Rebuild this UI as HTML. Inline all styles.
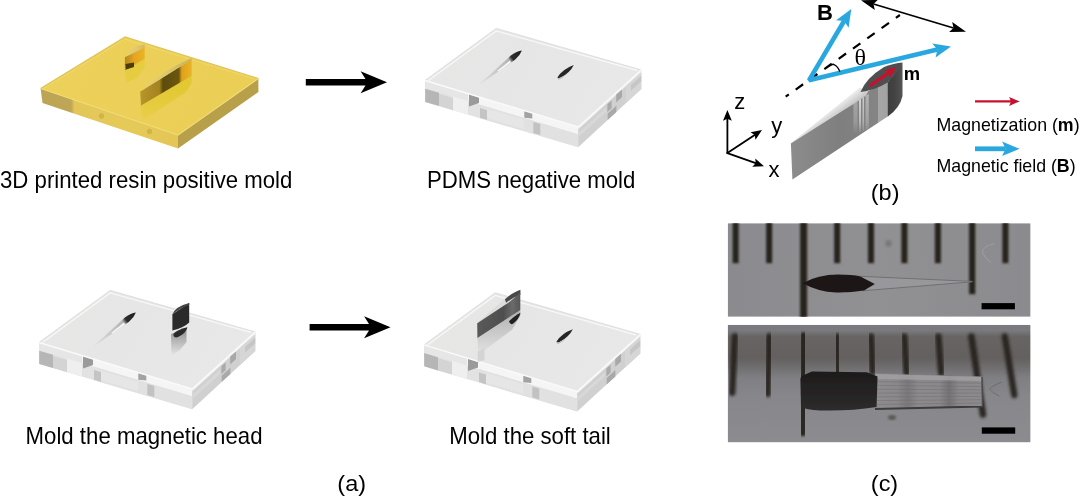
<!DOCTYPE html>
<html><head><meta charset="utf-8"><title>figure</title>
<style>html,body{margin:0;padding:0;background:#fff;}body{width:1080px;height:499px;position:relative;overflow:hidden;font-family:"Liberation Sans",sans-serif;}</style>
</head><body>
<svg width="1080" height="499" viewBox="0 0 1080 499" style="position:absolute;left:0;top:0">
<defs>
<linearGradient id="yfl" x1="40" y1="0" x2="178" y2="0" gradientUnits="userSpaceOnUse">
<stop offset="0" stop-color="#bca455"/><stop offset="0.225" stop-color="#bea656"/><stop offset="0.25" stop-color="#e2c658"/><stop offset="0.6" stop-color="#e6ca58"/><stop offset="1" stop-color="#e3c656"/>
</linearGradient>
<linearGradient id="yfr" x1="200" y1="90" x2="212" y2="107" gradientUnits="userSpaceOnUse">
<stop offset="0" stop-color="#d2b860"/><stop offset="0.6" stop-color="#c8b05a"/><stop offset="1" stop-color="#b89f48"/>
</linearGradient>
<linearGradient id="ytop" x1="40" y1="37" x2="200" y2="135" gradientUnits="userSpaceOnUse">
<stop offset="0" stop-color="#ecd15c"/><stop offset="1" stop-color="#ebce55"/>
</linearGradient>
<linearGradient id="yblade" x1="140" y1="0" x2="191" y2="0" gradientUnits="userSpaceOnUse">
<stop offset="0" stop-color="#b8962a"/><stop offset="0.38" stop-color="#a48320"/><stop offset="0.45" stop-color="#5e4d0c"/><stop offset="0.76" stop-color="#6b560c"/><stop offset="0.82" stop-color="#e0a01c"/><stop offset="1" stop-color="#e9b226"/>
</linearGradient>
<linearGradient id="ybladeR" x1="0" y1="89" x2="0" y2="121" gradientUnits="userSpaceOnUse">
<stop offset="0" stop-color="#e2c832"/><stop offset="0.5" stop-color="#e6cc3e"/><stop offset="1" stop-color="#e9ce50"/>
</linearGradient>
<linearGradient id="ypost" x1="125" y1="0" x2="145" y2="0" gradientUnits="userSpaceOnUse">
<stop offset="0" stop-color="#b48a1c"/><stop offset="0.3" stop-color="#d09a20"/><stop offset="0.45" stop-color="#e4a620"/><stop offset="1" stop-color="#e9b428"/>
</linearGradient>
<linearGradient id="ylens" x1="140" y1="0" x2="192" y2="0" gradientUnits="userSpaceOnUse">
<stop offset="0" stop-color="#e6d07c"/><stop offset="0.5" stop-color="#dcc770"/><stop offset="1" stop-color="#c4b25c"/>
</linearGradient>
<linearGradient id="ylens2" x1="125" y1="0" x2="145" y2="0" gradientUnits="userSpaceOnUse">
<stop offset="0" stop-color="#e4cf7a"/><stop offset="0.6" stop-color="#e0c86c"/><stop offset="1" stop-color="#d4b85a"/>
</linearGradient>
<filter id="b1" x="-10%" y="-10%" width="120%" height="120%"><feGaussianBlur stdDeviation="0.75"/></filter>
<filter id="b2" x="-20%" y="-20%" width="140%" height="140%"><feGaussianBlur stdDeviation="1.2"/></filter>
<filter id="b3" x="-20%" y="-20%" width="140%" height="140%"><feGaussianBlur stdDeviation="2"/></filter>

<linearGradient id="ptop" x1="425" y1="28" x2="600" y2="130" gradientUnits="userSpaceOnUse">
<stop offset="0" stop-color="#e7e7e6"/><stop offset="0.5" stop-color="#e6e6e6"/><stop offset="1" stop-color="#e8e8e8"/>
</linearGradient>
<linearGradient id="pfl" x1="0" y1="0" x2="0" y2="1">
<stop offset="0" stop-color="#e9e9e9"/><stop offset="1" stop-color="#dedede"/>
</linearGradient>
<linearGradient id="pgroove" x1="479" y1="84" x2="522" y2="50" gradientUnits="userSpaceOnUse">
<stop offset="0" stop-color="#dedede"/><stop offset="0.35" stop-color="#cccccc"/><stop offset="0.7" stop-color="#b4b4b4"/><stop offset="0.77" stop-color="#2c2c2c"/><stop offset="1" stop-color="#1e1e1e"/>
</linearGradient>
<linearGradient id="prefl" x1="0" y1="0" x2="0" y2="1">
<stop offset="0" stop-color="#8a8a8a"/><stop offset="1" stop-color="#e6e6e6"/>
</linearGradient>
<linearGradient id="trefl" x1="0" y1="0" x2="0" y2="1">
<stop offset="0" stop-color="#b0b0b0"/><stop offset="1" stop-color="#e2e2e2"/>
</linearGradient>
<linearGradient id="tface" x1="477" y1="0" x2="521" y2="0" gradientUnits="userSpaceOnUse">
<stop offset="0" stop-color="#5a5a5a"/><stop offset="0.6" stop-color="#4e4e4e"/><stop offset="0.8" stop-color="#6a6a6a"/><stop offset="1" stop-color="#555"/>
</linearGradient>

<linearGradient id="bside" x1="791" y1="0" x2="888" y2="0" gradientUnits="userSpaceOnUse">
<stop offset="0" stop-color="#8c8c8c"/><stop offset="0.5" stop-color="#7f7f7f"/><stop offset="0.8" stop-color="#838383"/><stop offset="0.895" stop-color="#858585"/><stop offset="0.9" stop-color="#a6a6a6"/><stop offset="1" stop-color="#a2a2a2"/>
</linearGradient>
<linearGradient id="bwedge" x1="820" y1="105" x2="832" y2="121" gradientUnits="userSpaceOnUse">
<stop offset="0" stop-color="#ffffff"/><stop offset="0.5" stop-color="#eeeeee"/><stop offset="1" stop-color="#c2c2c2"/>
</linearGradient>
<linearGradient id="bhead" x1="887" y1="0" x2="903" y2="0" gradientUnits="userSpaceOnUse">
<stop offset="0" stop-color="#3c3c3c"/><stop offset="0.5" stop-color="#444"/><stop offset="1" stop-color="#555"/>
</linearGradient>
<linearGradient id="bfade" x1="0" y1="92" x2="0" y2="134" gradientUnits="userSpaceOnUse">
<stop offset="0" stop-color="#fff" stop-opacity="0.9"/><stop offset="0.7" stop-color="#fff" stop-opacity="0.55"/><stop offset="1" stop-color="#fff" stop-opacity="0"/>
</linearGradient>

<linearGradient id="c1bg" x1="0" y1="0" x2="1" y2="0">
<stop offset="0" stop-color="#8b8b8f"/><stop offset="0.5" stop-color="#919194"/><stop offset="1" stop-color="#8b8b8f"/>
</linearGradient>
<linearGradient id="c2bg" x1="0" y1="324.8" x2="0" y2="442.4" gradientUnits="userSpaceOnUse">
<stop offset="0" stop-color="#7b7b80"/><stop offset="0.05" stop-color="#79797e"/><stop offset="0.10" stop-color="#676463"/><stop offset="0.28" stop-color="#63605f"/><stop offset="0.36" stop-color="#6f6d6e"/><stop offset="0.45" stop-color="#7f7f83"/><stop offset="0.6" stop-color="#87878b"/><stop offset="1" stop-color="#8b8b90"/>
</linearGradient>
<clipPath id="cp1"><rect x="727.7" y="223.2" width="302.9" height="93.6"/></clipPath>
<clipPath id="cp2"><rect x="727.7" y="324.8" width="302.9" height="117.6"/></clipPath>
<filter id="bt" x="-100%" y="-10%" width="300%" height="120%"><feGaussianBlur stdDeviation="1.1"/></filter>
<filter id="bt2" x="-100%" y="-10%" width="300%" height="120%"><feGaussianBlur stdDeviation="1.8"/></filter><filter id="bt3" x="-100%" y="-10%" width="300%" height="120%"><feGaussianBlur stdDeviation="1.5"/></filter>
<linearGradient id="tailg" x1="876" y1="0" x2="982" y2="0" gradientUnits="userSpaceOnUse">
<stop offset="0" stop-color="#8e8c8f"/><stop offset="0.2" stop-color="#8a888b"/><stop offset="0.3" stop-color="#7a787a"/><stop offset="0.4" stop-color="#8c8a8d"/><stop offset="0.6" stop-color="#8a888b"/><stop offset="0.69" stop-color="#747274"/><stop offset="0.78" stop-color="#8a888b"/><stop offset="1" stop-color="#8c8a8e"/>
</linearGradient>
<linearGradient id="headg" x1="0" y1="371" x2="0" y2="411" gradientUnits="userSpaceOnUse">
<stop offset="0" stop-color="#1d1b1b"/><stop offset="0.45" stop-color="#242222"/><stop offset="1" stop-color="#2e2c2c"/>
</linearGradient>
</defs>
<g filter="url(#b1)">
<polygon points="40.6,88.5 178.0,135.0 178.0,148.5 42.5,103.0" fill="url(#yfl)"/>
<polygon points="178.0,135.0 258.4,78.5 258.4,92.0 178.0,148.5" fill="url(#yfr)"/>
<polygon points="40.6,88.5 125.0,37.0 258.4,78.5 178.0,135.0" fill="url(#ytop)"/>
<polyline points="40.6,88.5 125.0,37.0 258.4,78.5" fill="none" stroke="#e0c458" stroke-width="1.2"/>
<polyline points="43.5,88.6 125.0,39.2 255.0,79.0" fill="none" stroke="#f0d970" stroke-width="1" opacity="0.8"/>
<polyline points="40.6,88.5 178.0,135.0 258.4,78.5" fill="none" stroke="#f1da78" stroke-width="1.3" opacity="0.9"/>
<ellipse cx="101.5" cy="116" rx="2.6" ry="2.8" fill="#b89c3c" opacity="0.45" filter="url(#b1)"/>
<ellipse cx="149.5" cy="131.5" rx="2.6" ry="2.8" fill="#b89c3c" opacity="0.45" filter="url(#b1)"/>
<polygon points="124.8,70.0 144.7,58.0 144.7,67.0 138.0,77.0 126.5,83.0" fill="#e6cc40" filter="url(#b1)"/>
<path d="M124.9,56.9 L144.7,47.3 L144.7,58.7 L124.9,70.6Z" fill="url(#ypost)"/>
<polygon points="125.5,64.0 134.0,62.5 134.0,67.0 126.0,69.5" fill="#4a3c08" filter="url(#b1)"/>
<path d="M124.9,57 Q131.4,45.9 144.7,44.3 L144.7,47.4 L124.9,57Z" fill="url(#ylens2)"/>
<polygon points="140.6,104.0 191.6,74.5 191.6,83.0 186.0,92.0 142.0,121.0" fill="url(#ybladeR)" filter="url(#b1)"/>
<path d="M140.2,91.5 L191.6,59.6 L191.6,75.7 L141,105.5Z" fill="url(#yblade)"/>
<path d="M140.2,91.6 Q164,69.7 191.4,58.3 L191.6,59.8 L140.2,91.6Z" fill="url(#ylens)"/>
</g><g transform="translate(0,0)">
<g filter="url(#b1)">
<polygon points="425.0,80.5 578.2,127.0 578.2,147.2 425.4,102.0" fill="#e2e2e2"/>
<polygon points="578.2,127.0 641.3,70.0 641.3,89.0 578.2,147.2" fill="#d0d0d0"/>
<polygon points="425.2,88.7 439.0,92.8 439.0,106.0 425.2,101.9" fill="#b6b6b6" opacity="1"/>
<polygon points="439.0,93.7 453.0,97.9 453.0,110.2 439.0,106.0" fill="#d4d4d4" opacity="1"/>
<polygon points="453.0,95.3 468.0,99.9 468.0,114.6 453.0,110.2" fill="#efefef" opacity="1"/>
<polygon points="425.2,80.6 468.0,93.6 468.0,101.1 425.2,88.3" fill="#e6e6e6" opacity="1"/>
<polygon points="468.0,93.6 578.0,126.9 578.0,134.2 468.0,101.1" fill="#f5f5f5" opacity="1"/>
<polygon points="480.0,104.7 578.0,134.2 578.0,147.1 480.0,118.2" fill="#e1e1e1" opacity="1"/>
<polygon points="469.0,94.0 479.0,97.5 479.0,103.0 469.0,106.5" fill="#9a9a9a"/>
<polygon points="480.0,108.1 487.0,110.2 487.0,119.8 480.0,117.7" fill="#c4c4c4" opacity="1"/>
<polygon points="487.0,108.7 524.0,119.8 524.0,129.1 487.0,118.1" fill="#e6e6e6" opacity="1"/>
<polygon points="524.3,110.6 532.3,112.0 532.3,118.6 524.3,117.8" fill="#a2a2a2"/>
<polygon points="533.3,122.0 540.3,124.1 540.3,135.0 533.3,132.9" fill="#c2c2c2" opacity="1"/>
<polygon points="578.4,126.8 641.0,70.3 641.0,72.6 578.4,129.2" fill="#f0f0f0" opacity="1"/>
<polygon points="578.4,132.9 606.0,107.8 606.0,111.7 578.4,136.9" fill="#d8d8d8" opacity="1"/>
<polygon points="607.4,104.2 611.6,100.4 611.6,108.2 607.4,112.0" fill="#aaaaaa" opacity="1"/>
<polygon points="616.2,94.6 622.0,89.4 622.0,97.1 616.2,102.4" fill="#a8a8a8" opacity="1"/>
<polygon points="607.6,113.8 616.4,105.7 616.4,112.0 607.6,120.1" fill="#a9a9a9" opacity="1"/>
<polygon points="626.0,86.1 641.2,72.4 641.2,89.1 626.0,103.1" fill="#d6d6d6" opacity="1"/>
<polygon points="631.0,85.1 641.2,75.8 641.2,81.5 631.0,90.8" fill="#c6c6c6" opacity="1"/>
<polygon points="425.0,80.5 496.2,28.4 641.3,70.0 578.2,127.0" fill="url(#ptop)"/>
<polyline points="425.0,80.5 496.2,28.4 641.3,70.0" fill="none" stroke="#dedede" stroke-width="1"/>
<polyline points="428.5,80.6 496.2,31.0 637.0,70.4" fill="none" stroke="#f8f8f8" stroke-width="1.2"/>
<polyline points="425.0,80.5 578.2,127.0 641.3,70.0" fill="none" stroke="#fafafa" stroke-width="1.4"/>
</g>
<path d="M479.4,84.3 L510.9,55.4 Q517,51 521.9,50.4 Q520,55.5 515,59.8 Q506,66.5 479.4,84.6Z" fill="url(#pgroove)" filter="url(#b1)"/>
<path d="M497,71 L510,60.5 L511,62.5 L499,71.2Z" fill="#f6f6f6" filter="url(#b1)"/>
<g filter="url(#b1)">
<path d="M557.4,77.4 Q562.5,69 573.8,64.9 Q570,72.8 560.5,77.6 Q558.5,78.6 557.4,77.4Z" fill="#262626"/>
<path d="M557.4,77.4 Q558.5,78.8 560.5,77.8 Q565,76 568,73 Q563,78 559,79.6 Q557.6,79.6 557.4,77.4Z" fill="#b8b8b8"/>
</g>
</g><g transform="translate(-386,262)">
<g filter="url(#b1)">
<polygon points="425.0,80.5 578.2,127.0 578.2,147.2 425.4,102.0" fill="#e2e2e2"/>
<polygon points="578.2,127.0 641.3,70.0 641.3,89.0 578.2,147.2" fill="#d0d0d0"/>
<polygon points="425.2,88.7 439.0,92.8 439.0,106.0 425.2,101.9" fill="#b6b6b6" opacity="1"/>
<polygon points="439.0,93.7 453.0,97.9 453.0,110.2 439.0,106.0" fill="#d4d4d4" opacity="1"/>
<polygon points="453.0,95.3 468.0,99.9 468.0,114.6 453.0,110.2" fill="#efefef" opacity="1"/>
<polygon points="425.2,80.6 468.0,93.6 468.0,101.1 425.2,88.3" fill="#e6e6e6" opacity="1"/>
<polygon points="468.0,93.6 578.0,126.9 578.0,134.2 468.0,101.1" fill="#f5f5f5" opacity="1"/>
<polygon points="480.0,104.7 578.0,134.2 578.0,147.1 480.0,118.2" fill="#e1e1e1" opacity="1"/>
<polygon points="469.0,94.0 479.0,97.5 479.0,103.0 469.0,106.5" fill="#9a9a9a"/>
<polygon points="480.0,108.1 487.0,110.2 487.0,119.8 480.0,117.7" fill="#c4c4c4" opacity="1"/>
<polygon points="487.0,108.7 524.0,119.8 524.0,129.1 487.0,118.1" fill="#e6e6e6" opacity="1"/>
<polygon points="524.3,110.6 532.3,112.0 532.3,118.6 524.3,117.8" fill="#a2a2a2"/>
<polygon points="533.3,122.0 540.3,124.1 540.3,135.0 533.3,132.9" fill="#c2c2c2" opacity="1"/>
<polygon points="578.4,126.8 641.0,70.3 641.0,72.6 578.4,129.2" fill="#f0f0f0" opacity="1"/>
<polygon points="578.4,132.9 606.0,107.8 606.0,111.7 578.4,136.9" fill="#d8d8d8" opacity="1"/>
<polygon points="607.4,104.2 611.6,100.4 611.6,108.2 607.4,112.0" fill="#aaaaaa" opacity="1"/>
<polygon points="616.2,94.6 622.0,89.4 622.0,97.1 616.2,102.4" fill="#a8a8a8" opacity="1"/>
<polygon points="607.6,113.8 616.4,105.7 616.4,112.0 607.6,120.1" fill="#a9a9a9" opacity="1"/>
<polygon points="626.0,86.1 641.2,72.4 641.2,89.1 626.0,103.1" fill="#d6d6d6" opacity="1"/>
<polygon points="631.0,85.1 641.2,75.8 641.2,81.5 631.0,90.8" fill="#c6c6c6" opacity="1"/>
<polygon points="425.0,80.5 496.2,28.4 641.3,70.0 578.2,127.0" fill="url(#ptop)"/>
<polyline points="425.0,80.5 496.2,28.4 641.3,70.0" fill="none" stroke="#dedede" stroke-width="1"/>
<polyline points="428.5,80.6 496.2,31.0 637.0,70.4" fill="none" stroke="#f8f8f8" stroke-width="1.2"/>
<polyline points="425.0,80.5 578.2,127.0 641.3,70.0" fill="none" stroke="#fafafa" stroke-width="1.4"/>
</g>
<path d="M479.4,84.3 L510.9,55.4 Q517,51 521.9,50.4 Q520,55.5 515,59.8 Q506,66.5 479.4,84.6Z" fill="url(#pgroove)" filter="url(#b1)"/>
<path d="M497,71 L510,60.5 L511,62.5 L499,71.2Z" fill="#f6f6f6" filter="url(#b1)"/>
<g filter="url(#b1)">
<polygon points="557.0,72.0 572.5,65.5 572.5,80.0 566.0,88.0 557.5,93.5" fill="url(#prefl)"/>
<path d="M559.3,72.2 Q563,67.8 573.4,65.3 Q572,71.5 564,75 Q560,76.5 559.3,72.2Z" fill="#2a2a2a"/>
<path d="M558.4,52.3 L575.2,41.1 L575.2,60.4 Q570,65.5 558.4,68.5Z" fill="#2b2b2b"/>
<path d="M558.4,52.6 Q561,44.5 575.2,41 L575.2,43 Q566,46 558.4,52.6Z" fill="#454545"/>
</g>
</g><g transform="translate(-1,264.4)">
<g filter="url(#b1)">
<polygon points="425.0,80.5 578.2,127.0 578.2,147.2 425.4,102.0" fill="#e2e2e2"/>
<polygon points="578.2,127.0 641.3,70.0 641.3,89.0 578.2,147.2" fill="#d0d0d0"/>
<polygon points="425.2,88.7 439.0,92.8 439.0,106.0 425.2,101.9" fill="#b6b6b6" opacity="1"/>
<polygon points="439.0,93.7 453.0,97.9 453.0,110.2 439.0,106.0" fill="#d4d4d4" opacity="1"/>
<polygon points="453.0,95.3 468.0,99.9 468.0,114.6 453.0,110.2" fill="#efefef" opacity="1"/>
<polygon points="425.2,80.6 468.0,93.6 468.0,101.1 425.2,88.3" fill="#e6e6e6" opacity="1"/>
<polygon points="468.0,93.6 578.0,126.9 578.0,134.2 468.0,101.1" fill="#f5f5f5" opacity="1"/>
<polygon points="480.0,104.7 578.0,134.2 578.0,147.1 480.0,118.2" fill="#e1e1e1" opacity="1"/>
<polygon points="469.0,94.0 479.0,97.5 479.0,103.0 469.0,106.5" fill="#9a9a9a"/>
<polygon points="480.0,108.1 487.0,110.2 487.0,119.8 480.0,117.7" fill="#c4c4c4" opacity="1"/>
<polygon points="487.0,108.7 524.0,119.8 524.0,129.1 487.0,118.1" fill="#e6e6e6" opacity="1"/>
<polygon points="524.3,110.6 532.3,112.0 532.3,118.6 524.3,117.8" fill="#a2a2a2"/>
<polygon points="533.3,122.0 540.3,124.1 540.3,135.0 533.3,132.9" fill="#c2c2c2" opacity="1"/>
<polygon points="578.4,126.8 641.0,70.3 641.0,72.6 578.4,129.2" fill="#f0f0f0" opacity="1"/>
<polygon points="578.4,132.9 606.0,107.8 606.0,111.7 578.4,136.9" fill="#d8d8d8" opacity="1"/>
<polygon points="607.4,104.2 611.6,100.4 611.6,108.2 607.4,112.0" fill="#aaaaaa" opacity="1"/>
<polygon points="616.2,94.6 622.0,89.4 622.0,97.1 616.2,102.4" fill="#a8a8a8" opacity="1"/>
<polygon points="607.6,113.8 616.4,105.7 616.4,112.0 607.6,120.1" fill="#a9a9a9" opacity="1"/>
<polygon points="626.0,86.1 641.2,72.4 641.2,89.1 626.0,103.1" fill="#d6d6d6" opacity="1"/>
<polygon points="631.0,85.1 641.2,75.8 641.2,81.5 631.0,90.8" fill="#c6c6c6" opacity="1"/>
<polygon points="425.0,80.5 496.2,28.4 641.3,70.0 578.2,127.0" fill="url(#ptop)"/>
<polyline points="425.0,80.5 496.2,28.4 641.3,70.0" fill="none" stroke="#dedede" stroke-width="1"/>
<polyline points="428.5,80.6 496.2,31.0 637.0,70.4" fill="none" stroke="#f8f8f8" stroke-width="1.2"/>
<polyline points="425.0,80.5 578.2,127.0 641.3,70.0" fill="none" stroke="#fafafa" stroke-width="1.4"/>
</g>
<g filter="url(#b1)" transform="translate(1,-2.6)">
<polygon points="477.4,76.3 520.3,48.0 520.3,54.0 512.0,68.0 484.0,89.0 478.5,92.0" fill="url(#trefl)"/>
<polygon points="477.6,90.0 484.5,86.0 484.5,98.5 477.8,100.0" fill="#d4d4d4"/>
<path d="M509,59.5 Q515,53.5 520.5,51 Q519,57.5 513,62 Q510,63.5 509,59.5Z" fill="#222"/>
<polygon points="477.2,61.2 507.0,35.0 520.3,28.2 520.3,30.0 509.0,40.0" fill="#dcdcdc"/>
<path d="M505,37.5 Q512,31 520.4,28 L520.4,33 Q512,36 506,41Z" fill="#4a4a4a"/>
<polygon points="477.2,61.4 509.0,40.4 520.3,31.0 520.3,48.2 477.4,76.2" fill="url(#tface)"/>
</g>
<g filter="url(#b1)">
<path d="M557.4,77.4 Q562.5,69 573.8,64.9 Q570,72.8 560.5,77.6 Q558.5,78.6 557.4,77.4Z" fill="#262626"/>
<path d="M557.4,77.4 Q558.5,78.8 560.5,77.8 Q565,76 568,73 Q563,78 559,79.6 Q557.6,79.6 557.4,77.4Z" fill="#b8b8b8"/>
</g>
</g><polygon points="305.8,79.0 365.5,79.0 360.6,71.3 387.0,82.3 360.6,93.3 365.5,85.6 305.8,85.6" fill="#000"/><polygon points="309.6,324.0 369.0,324.0 364.1,316.3 390.5,327.3 364.1,338.3 369.0,330.6 309.6,330.6" fill="#000"/><g filter="url(#b1)">
<polygon points="790.9,143.2 859.7,87.6 868.0,90.0 869.5,93.5 790.9,144.8" fill="url(#bwedge)"/>
<path d="M790.9,143.4 L854.5,103.2 L866,95.6 L868.5,91 L887.7,80 L887.7,116.6 L792.4,179.4 Z" fill="url(#bside)"/>
<polygon points="853.4,104.0 857.6,101.2 857.6,133.0 853.4,134.5" fill="url(#bfade)" opacity="0.35"/>
<polygon points="859.0,100.3 861.0,99.0 861.0,131.5 859.0,132.5" fill="url(#bfade)" opacity="0.8"/>
<polygon points="862.5,98.0 864.0,97.0 864.0,130.5 862.5,131.5" fill="url(#bfade)" opacity="0.7"/>
<polygon points="865.5,96.0 868.8,93.8 868.8,129.0 865.5,130.0" fill="url(#bfade)" opacity="0.45"/>
<path d="M887.6,82.4 L902.5,62.8 L902.5,96 Q900,108 887.6,116.7Z" fill="url(#bhead)"/>
<path d="M860.5,92.1 Q866,78 884,67 Q894,63 902.5,62.5 Q899,72 887.5,82.5 Q876,89.8 860.5,92.1Z" fill="#4f4f4f"/>
</g>
<line x1="899.9" y1="15" x2="785.7" y2="96.7" stroke="#000" stroke-width="2.2" stroke-dasharray="9.1 8.5" stroke-dashoffset="4.2"/>
<polyline points="844.1,21.0 809.0,80.3 937.4,49.6" fill="none" stroke="#29a8e0" stroke-width="4.6" stroke-linejoin="miter" stroke-miterlimit="2.2"/>
<polygon points="851.3,9.0 848.6,27.7 844.1,21.0 836.1,20.3" fill="#29a8e0"/>
<polygon points="951.0,46.4 935.6,57.5 937.4,49.6 932.3,43.4" fill="#29a8e0"/>
<line x1="873.5" y1="4.0" x2="953.5" y2="28.0" stroke="#000" stroke-width="1.8"/>
<polygon points="861.0,0.3 877.8,-0.1 873.5,4.0 874.8,9.9" fill="#000"/>
<polygon points="966.0,31.7 949.2,32.1 953.5,28.0 952.2,22.1" fill="#000"/>
<path d="M826.5,67.6 Q831,64.5 833.5,64.3 Q838,66 839.8,71.8" fill="none" stroke="#000" stroke-width="1.4"/>
<line x1="869.6" y1="86" x2="888.8" y2="72.7" stroke="#c8102e" stroke-width="3.2"/>
<polygon points="896.6,67.3 889.9,77.8 888.8,72.7 884.4,69.9" fill="#c8102e"/>
<line x1="727.4" y1="153.1" x2="727.4" y2="118.8" stroke="#000" stroke-width="1.8" stroke-linecap="round"/>
<polygon points="727.4,110.0 731.8,120.8 727.4,118.8 723.0,120.8" fill="#000"/>
<line x1="727.4" y1="153.1" x2="754.7" y2="134.9" stroke="#000" stroke-width="1.8" stroke-linecap="round"/>
<polygon points="762.0,130.0 755.5,139.7 754.7,134.9 750.6,132.3" fill="#000"/>
<line x1="727.4" y1="153.1" x2="755.7" y2="163.2" stroke="#000" stroke-width="1.8" stroke-linecap="round"/>
<polygon points="764.0,166.2 752.3,166.7 755.7,163.2 755.3,158.4" fill="#000"/>
<line x1="975" y1="101.4" x2="1011.1" y2="101.4" stroke="#c8102e" stroke-width="2.2"/>
<polygon points="1019.6,101.4 1009.1,105.9 1011.1,101.4 1009.1,96.9" fill="#c8102e"/>
<line x1="975" y1="148.8" x2="1005.6" y2="148.8" stroke="#29a8e0" stroke-width="4.8"/>
<polygon points="1019.6,148.8 1002.1,156.1 1005.6,148.8 1002.1,141.6" fill="#29a8e0"/><g style="opacity:0.999"><text x="817.0" y="20.3" font-size="22" font-family="Liberation Sans, sans-serif" font-weight="bold" text-anchor="start" fill="#000" >B</text><text x="903.8" y="79.7" font-size="18.4" font-family="Liberation Sans, sans-serif" font-weight="bold" text-anchor="start" fill="#000" >m</text><text x="860.3" y="65.2" font-size="24" font-family="Liberation Serif, serif" font-weight="normal" text-anchor="middle" fill="#000" >θ</text><text x="734.3" y="109" font-size="22" font-family="Liberation Sans, sans-serif" font-weight="normal" text-anchor="start" fill="#000" >z</text><text x="771.3" y="132.9" font-size="22" font-family="Liberation Sans, sans-serif" font-weight="normal" text-anchor="start" fill="#000" >y</text><text x="768.6" y="176.7" font-size="22" font-family="Liberation Sans, sans-serif" font-weight="normal" text-anchor="start" fill="#000" >x</text><text x="936.5" y="131" font-size="17.75" font-family="Liberation Sans, sans-serif" font-weight="normal" text-anchor="start" fill="#000" >Magnetization (<tspan font-weight="bold">m</tspan>)</text><text x="936.5" y="171.8" font-size="17.75" font-family="Liberation Sans, sans-serif" font-weight="normal" text-anchor="start" fill="#000" >Magnetic field (<tspan font-weight="bold">B</tspan>)</text></g><g clip-path="url(#cp1)">
<rect x="727.7" y="223.2" width="302.9" height="93.6" fill="url(#c1bg)"/>
<rect x="732.6" y="215" width="6.0" height="48.19999999999999" fill="#26221f" filter="url(#bt)"/>
<rect x="766.2" y="215" width="6.0" height="48.19999999999999" fill="#26221f" filter="url(#bt)"/>
<rect x="800.1" y="215" width="7.0" height="110" fill="#26221f" filter="url(#bt)"/>
<rect x="834.2" y="215" width="6.0" height="48.19999999999999" fill="#26221f" filter="url(#bt)"/>
<rect x="868.0" y="215" width="6.0" height="48.19999999999999" fill="#26221f" filter="url(#bt)"/>
<rect x="901.4" y="215" width="6.0" height="48.19999999999999" fill="#26221f" filter="url(#bt)"/>
<rect x="934.9" y="215" width="6.0" height="48.19999999999999" fill="#26221f" filter="url(#bt)"/>
<rect x="969.1" y="215" width="6.2" height="79.19999999999999" fill="#26221f" filter="url(#bt)"/>
<rect x="1002.4" y="215" width="6.0" height="48.19999999999999" fill="#26221f" filter="url(#bt)"/>
<ellipse cx="888.5" cy="243.5" rx="3.4" ry="3.4" fill="#6a6662" opacity="0.55" filter="url(#b2)"/>
<path d="M994,243.5 Q982,247 982.5,252 Q984,258 991,262.5" fill="none" stroke="#a6a6a9" stroke-width="0.9" opacity="0.8" filter="url(#b1)"/>
<path d="M858,276.2 L972.4,281.2 L972.4,282 L862,290.8Z" fill="#9b9b9f" opacity="0.75" filter="url(#b1)"/>
<path d="M858,276.2 L972.4,281.4" stroke="#6c6c6e" stroke-width="0.9" fill="none" filter="url(#b1)"/>
<path d="M862,290.8 L972.4,281.8" stroke="#6c6c6e" stroke-width="0.9" fill="none" filter="url(#b1)"/>
<path d="M802.8,283.2 Q818,274.6 838,274.6 Q852,274.8 860.4,276.4 L874.8,284 L864,290.6 Q850,292.8 836,292.5 Q818,291.8 802.8,283.2Z" fill="#1b1919" filter="url(#b1)"/>
<rect x="981.6" y="303.1" width="33.3" height="6.2" fill="#000"/>
</g>
<g clip-path="url(#cp2)">
<rect x="727.7" y="324.8" width="302.9" height="117.6" fill="url(#c2bg)"/>
<line x1="734.8" y1="336.5" x2="732.2" y2="392.8" stroke="#26221f" stroke-width="6.4" stroke-linecap="round" filter="url(#bt3)" opacity="0.95"/>
<line x1="769.3" y1="336.5" x2="767.8" y2="393.8" stroke="#26221f" stroke-width="6.4" stroke-linecap="round" filter="url(#bt3)" opacity="0.95"/>
<line x1="803.9" y1="336" x2="802.8" y2="432.5" stroke="#26221f" stroke-width="7.6" stroke-linecap="round" filter="url(#bt)" opacity="0.95"/>
<line x1="837.0" y1="336.5" x2="837.6" y2="372" stroke="#26221f" stroke-width="6.4" stroke-linecap="round" filter="url(#bt3)" opacity="0.95"/>
<line x1="871.1" y1="336.5" x2="872.6" y2="372" stroke="#26221f" stroke-width="6.4" stroke-linecap="round" filter="url(#bt3)" opacity="0.95"/>
<line x1="904.3" y1="336.5" x2="906.6" y2="372.8" stroke="#26221f" stroke-width="6.4" stroke-linecap="round" filter="url(#bt3)" opacity="0.95"/>
<line x1="938.4" y1="336.5" x2="941.2" y2="373" stroke="#26221f" stroke-width="6.4" stroke-linecap="round" filter="url(#bt2)" opacity="0.95"/>
<line x1="971.4" y1="336.5" x2="983" y2="414.5" stroke="#26221f" stroke-width="6.6" stroke-linecap="round" filter="url(#bt2)" opacity="0.95"/>
<line x1="1004.8" y1="336.5" x2="1014.3" y2="395" stroke="#26221f" stroke-width="6.4" stroke-linecap="round" filter="url(#bt2)" opacity="0.95"/>
<path d="M1002,382 Q992,386 989.5,389 Q992,393 999.5,396" fill="none" stroke="#68686c" stroke-width="1" opacity="0.8" filter="url(#b1)"/>
<ellipse cx="892" cy="417.5" rx="4" ry="2.4" fill="#4a443e" opacity="0.7" filter="url(#b2)"/>
<path d="M875,373.6 L982,376.6 L982.6,406.8 L875,408.5Z" fill="url(#tailg)" filter="url(#b1)"/>
<path d="M876,374 L982,377 L982,381 L876,379Z" fill="#a3a1a4" opacity="0.8" filter="url(#b1)"/>
<line x1="877" y1="381.6" x2="981" y2="383.2" stroke="#6c6a6c" stroke-width="0.8" opacity="0.55"/>
<line x1="877" y1="385.4" x2="981" y2="386.5" stroke="#6c6a6c" stroke-width="0.8" opacity="0.55"/>
<line x1="877" y1="389.2" x2="981" y2="389.8" stroke="#6c6a6c" stroke-width="0.8" opacity="0.55"/>
<line x1="877" y1="393.0" x2="981" y2="393.1" stroke="#6c6a6c" stroke-width="0.8" opacity="0.55"/>
<line x1="877" y1="396.8" x2="981" y2="396.4" stroke="#6c6a6c" stroke-width="0.8" opacity="0.55"/>
<line x1="877" y1="400.6" x2="981" y2="399.7" stroke="#6c6a6c" stroke-width="0.8" opacity="0.55"/>
<line x1="877" y1="404.4" x2="981" y2="403.0" stroke="#6c6a6c" stroke-width="0.8" opacity="0.55"/>
<path d="M982.6,406.6 L875,409" stroke="#3e3c3c" stroke-width="2" fill="none" filter="url(#b1)"/>
<path d="M982,377 L982.6,406.8" stroke="#4c4a4a" stroke-width="1.6" fill="none" filter="url(#b1)"/>
<path d="M804.5,374.8 L811.8,371.6 L866.8,372.2 L877.5,376.6 L876.6,407 Q850,411.2 820,410.4 Q806,409.6 801,407 L800.4,379 Q801,375.4 804.5,374.8Z" fill="url(#headg)" filter="url(#b1)"/>
<rect x="981.8" y="427.4" width="33.4" height="6.3" fill="#000"/>
</g><g style="opacity:0.999"><text transform="translate(0.0,187.6) scale(0.9655,1)" font-size="23" font-family="Liberation Sans, sans-serif" font-weight="normal" text-anchor="start" fill="#000">3D printed resin positive mold</text><text transform="translate(426.9,187.6) scale(0.9655,1)" font-size="23" font-family="Liberation Sans, sans-serif" font-weight="normal" text-anchor="start" fill="#000">PDMS negative mold</text><text transform="translate(25.6,443.6) scale(0.9655,1)" font-size="23" font-family="Liberation Sans, sans-serif" font-weight="normal" text-anchor="start" fill="#000">Mold the magnetic head</text><text transform="translate(449.2,443.6) scale(0.9655,1)" font-size="23" font-family="Liberation Sans, sans-serif" font-weight="normal" text-anchor="start" fill="#000">Mold the soft tail</text><text transform="translate(351.7,491.2) scale(1.04,1)" font-size="22.6" font-family="Liberation Sans, sans-serif" font-weight="normal" text-anchor="middle" fill="#000">(a)</text><text transform="translate(885.1,200.2) scale(1.04,1)" font-size="22.6" font-family="Liberation Sans, sans-serif" font-weight="normal" text-anchor="middle" fill="#000">(b)</text><text transform="translate(884.5,491.2) scale(1.04,1)" font-size="22.6" font-family="Liberation Sans, sans-serif" font-weight="normal" text-anchor="middle" fill="#000">(c)</text></g>
</svg>
</body></html>
